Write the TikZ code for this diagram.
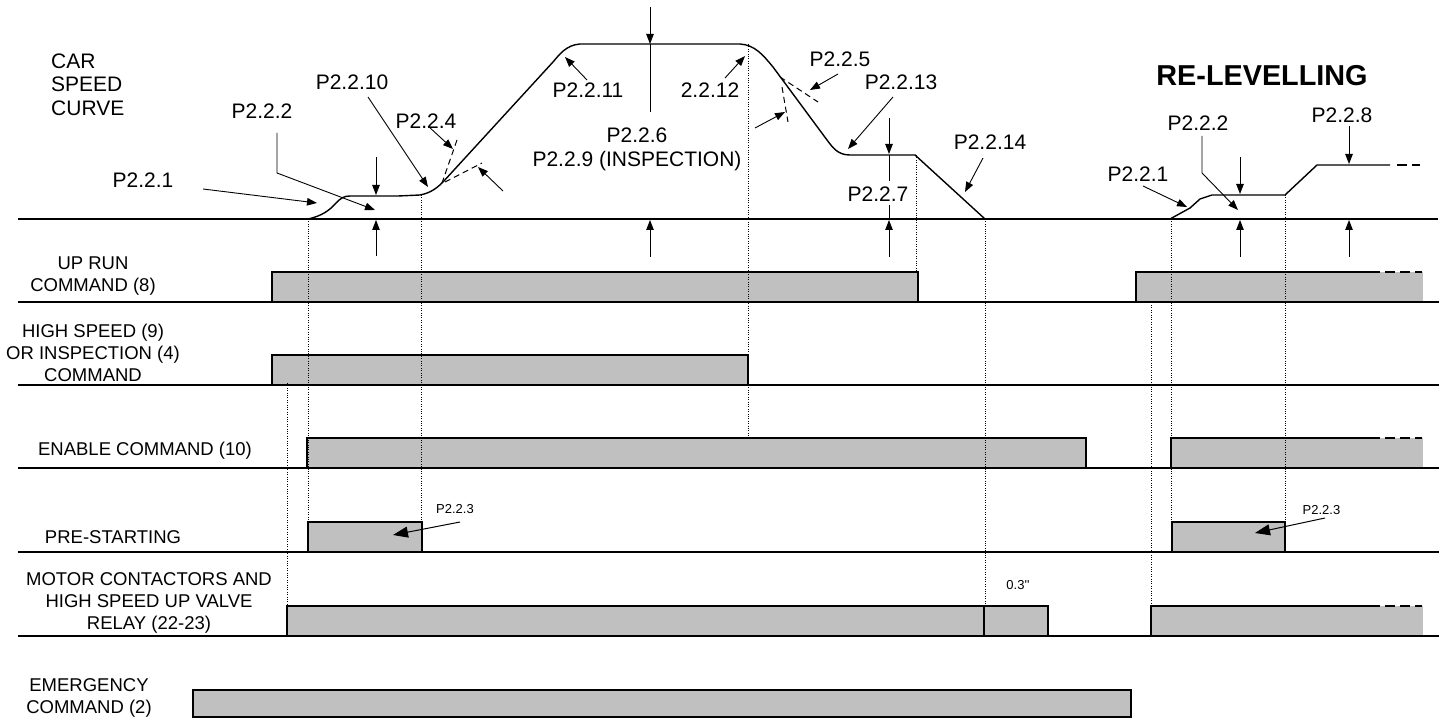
\documentclass[tikz,border=0pt]{standalone}
\usepackage{fontspec}
\setmainfont{Liberation Sans}
\newfontfamily\rawsans{Liberation Sans}
\usetikzlibrary{arrows.meta}
\definecolor{sigfill}{RGB}{192,192,192}
\tikzset{
  curve/.style={line width=1.4pt,line join=round},
  sigbox/.style={fill=sigfill,draw=black,line width=1.2pt},
  sigopen/.style={fill=sigfill},
  sigline/.style={line width=1.5pt},
  guide/.style={line width=0.7pt,dash pattern=on 1pt off 1.4pt},
  lead/.style={line width=0.9pt,-{Triangle[length=10pt,width=7.5pt]}},
  biglead/.style={line width=1pt,-{Triangle[length=15pt,width=11pt]}},
  tang/.style={line width=1pt,dash pattern=on 6pt off 4pt},
  tail/.style={line width=1.2pt,dash pattern=on 10pt off 5pt},
  plab/.style={inner sep=0pt,font=\fontsize{21}{24}\selectfont},
  rlab/.style={inner sep=0pt,align=center,font=\fontsize{18.5}{22}\selectfont},
  slab/.style={inner sep=0pt,font=\fontsize{13}{15}\selectfont}
}
\begin{document}
\begin{tikzpicture}[x=1pt,y=-1pt]
\useasboundingbox (0,0) rectangle (1443,719);
% signal boxes
\filldraw[sigbox] (272,302) rectangle (918,272);
\filldraw[sigbox] (272,385) rectangle (748,355);
\filldraw[sigbox] (307,468) rectangle (1086,438);
\filldraw[sigbox] (308,552) rectangle (422,522);
\filldraw[sigbox] (287,636) rectangle (984,606);
\filldraw[sigbox] (984,636) rectangle (1048,606);
\filldraw[sigbox] (193,717) rectangle (1131,690);
\filldraw[sigbox] (1172,552) rectangle (1285,522);
\foreach \xa/\ya in {1136/302,1171/468,1151/636}{
  \fill[sigopen] (\xa,\ya) rectangle (1423,\ya-30);
  \draw[line width=1.2pt] (\xa,\ya) -- (\xa,\ya-30) -- (1380,\ya-30);
  \draw[tail] (1385,\ya-30) -- (1422,\ya-30);
}
\foreach \ya in {302,385,468,552,636}
  \draw[sigline] (18,\ya) -- (1439,\ya);
% time guides
\foreach \xa/\ya/\yb in {287/383/606,308/219/522,421/195/522,748/44/438,916/155/272,
  985/219/606,1151/305/606,1171/219/522,1285/195/522}
  \draw[guide] (\xa,\ya) -- (\xa,\yb);
% speed curve
\draw[curve] (18,219) -- (1438,219);
\draw[curve] (308,219) .. controls (322,216) and (330,210) .. (336,203)
  .. controls (341,198) and (344,196) .. (350,196) -- (398,196) -- (420,195)
  .. controls (430,193) and (436,189) .. (443,182) -- (553,62)
  .. controls (559,55) and (566,45) .. (580,44) -- (740,44)
  .. controls (755,45) and (763,55) .. (773,67) -- (827,140)
  .. controls (833,148) and (838,155) .. (850,155) -- (915,155) -- (985,219);
\draw[curve] (1170,219) -- (1190,208) -- (1200,199) -- (1212,195) -- (1285,195)
  -- (1317,165) -- (1390,165);
\draw[line width=1.4pt,dash pattern=on 10pt off 5pt] (1397,165) -- (1420,165);
% tangent marks
\draw[tang] (457,140) -- (442,183);
\draw[tang] (445,182) -- (482,163);
\draw[tang] (780,77) -- (818,102);
\draw[tang] (782,87) -- (788,122);
% labels
\node[plab,anchor=west,align=left,font=\fontsize{21}{23.5}\selectfont] (title) at (51,84.5) {CAR\\SPEED\\CURVE};
\node[plab] (p1) at (143,180) {P2.2.1};
\node[plab] (p2) at (262,111) {P2.2.2};
\node[plab] (p10) at (352,82) {P2.2.10};
\node[plab] (p4) at (426,121) {P2.2.4};
\node[plab] (p11) at (588,90) {P2.2.11};
\node[plab] (p12) at (710,90) {2.2.12};
\node[plab,align=center] (p6) at (637,149) {P2.2.6\\P2.2.9 (INSPECTION)};
\node[plab] (p5) at (840,59) {P2.2.5};
\node[plab] (p13) at (901,82) {P2.2.13};
\node[plab] (p7) at (878,194) {P2.2.7};
\node[plab] (p14) at (990,142) {P2.2.14};
\node[inner sep=0pt,font=\fontsize{28.8}{32}\selectfont\bfseries] (relev) at (1262,76) {RE-LEVELLING};
\node[plab] (q1) at (1138,174) {P2.2.1};
\node[plab] (q2) at (1198,123) {P2.2.2};
\node[plab] (q8) at (1342,115) {P2.2.8};
\node[rlab] (uprun) at (93,276) {UP RUN\\COMMAND (8)};
\node[rlab] (hispeed) at (93,352.5) {HIGH SPEED (9)\\OR INSPECTION (4)\\COMMAND};
\node[rlab] (enable) at (145,451) {ENABLE COMMAND (10)};
\node[rlab] (prestart) at (113,537) {PRE-STARTING};
\node[rlab] (motor) at (149,602.5) {MOTOR CONTACTORS AND\\HIGH SPEED UP VALVE\\RELAY (22-23)};
\node[rlab] (emerg) at (89,698) {EMERGENCY\\COMMAND (2)};
\node[slab] (p3a) at (455,509) {P2.2.3};
\node[slab] (p3b) at (1321.5,510) {P2.2.3};
\node[slab,font=\fontsize{13}{15}\rawsans] (delay) at (1018,585) {0.3''};
% leaders
\draw[lead] (203,189) -- (317,203);
\draw[lead] (277,133) -- (277,173) -- (375,210);
\draw[lead] (376,157) -- (376,195);
\draw[lead] (376,256) -- (376,220);
\draw[lead] (368,97) -- (428,187);
\draw[lead] (428,126) -- (453,149);
\draw[lead] (503,191) -- (478,167);
\draw[lead] (587,80) -- (565,57);
\draw[lead] (725,78) -- (745,56);
\draw[lead] (650,7) -- (650,44);
\draw[line width=0.9pt] (650,44) -- (650,112);
\draw[lead] (650,257) -- (650,220);
\draw[lead] (838,74) -- (810,90);
\draw[lead] (755,128) -- (785,112);
\draw[lead] (893,97) -- (848,149);
\draw[lead] (889,118) -- (889,154);
\draw[line width=0.9pt] (889,155) -- (889,181) (889,205) -- (889,219);
\draw[lead] (889,257) -- (889,220);
\draw[lead] (983,158) -- (965,192);
\draw[lead] (1143,186) -- (1187,207);
\draw[lead] (1202,136) -- (1202,173) -- (1238,210);
\draw[lead] (1240,157) -- (1240,194);
\draw[lead] (1240,257) -- (1240,220);
\draw[lead] (1349,126) -- (1349,164);
\draw[lead] (1349,257) -- (1349,220);
\draw[biglead] (460,522) -- (393,535);
\draw[biglead] (1325,518) -- (1255,533);
\end{tikzpicture}
\end{document}
